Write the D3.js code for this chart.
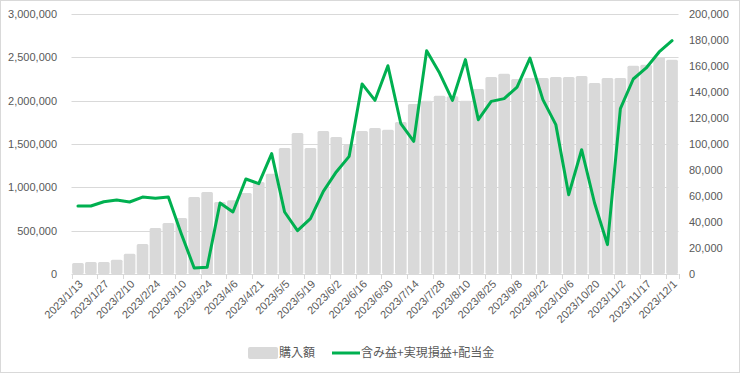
<!DOCTYPE html>
<html><head><meta charset="utf-8">
<script src="https://cdn.jsdelivr.net/npm/d3@7"></script>
<style>
html,body{margin:0;padding:0;background:#fff;}
svg{display:block;}
</style></head>
<body>
<svg id="chart" width="740" height="373"></svg>
<script>
const categories = ["2023/1/13","2023/1/20","2023/1/27","2023/2/3","2023/2/10","2023/2/17","2023/2/24","2023/3/3","2023/3/10","2023/3/17","2023/3/24","2023/3/31","2023/4/6","2023/4/14","2023/4/21","2023/4/28","2023/5/5","2023/5/12","2023/5/19","2023/5/26","2023/6/2","2023/6/9","2023/6/16","2023/6/23","2023/6/30","2023/7/7","2023/7/14","2023/7/21","2023/7/28","2023/8/4","2023/8/10","2023/8/18","2023/8/25","2023/9/1","2023/9/8","2023/9/15","2023/9/22","2023/9/29","2023/10/6","2023/10/13","2023/10/20","2023/10/27","2023/11/2","2023/11/10","2023/11/17","2023/11/24","2023/12/1"];
const purchase = [127000,138000,138000,165000,235000,346000,531000,588000,646000,888000,946000,831000,850000,935000,1061000,1158000,1454000,1627000,1454000,1650000,1581000,1492000,1650000,1685000,1665000,1754000,1961000,2000000,2058000,2050000,2000000,2135000,2273000,2311000,2250000,2261000,2261000,2273000,2273000,2285000,2204000,2261000,2261000,2404000,2415000,2504000,2473000];
const profit = [52300,52300,55600,56900,55400,59200,58200,59200,31000,4600,5100,54600,47700,73100,69500,92600,47700,33300,42600,63600,78500,90500,146200,133600,160200,115600,102000,171800,154600,133600,164900,118700,132800,134900,143800,166100,134100,114900,61000,95600,54600,22600,127200,150000,158500,170800,179500];
const leftTicks = [0,500000,1000000,1500000,2000000,2500000,3000000];
const rightTicks = [0,20000,40000,60000,80000,100000,120000,140000,160000,180000,200000];
const seriesNames = ["購入額","含み益+実現損益+配当金"];

(function(){
const svg = d3.select("#chart");
const W = 740, H = 373;
const pL = 71.5, pR = 678.5, pT = 14, pB = 274;
const textColor = "#595959";
const font = "'Liberation Sans', Arial, sans-serif";

svg.append("rect").attr("x",0.5).attr("y",0.5).attr("width",W-1).attr("height",H-1)
  .attr("fill","#fff").attr("stroke","#d9d9d9");

const x = d3.scaleBand().domain(categories).range([pL,pR]).paddingInner(0.1).paddingOuter(0.05);
const yL = d3.scaleLinear().domain([0,3000000]).range([pB,pT]);
const yR = d3.scaleLinear().domain([0,200000]).range([pB,pT]);
const fmt = d3.format(",");

svg.append("g").selectAll("line").data(leftTicks.slice(1)).join("line")
  .attr("x1",pL).attr("x2",pR)
  .attr("y1",d=>Math.round(yL(d))+0.5).attr("y2",d=>Math.round(yL(d))+0.5)
  .attr("stroke","#d9d9d9").attr("stroke-width",1);

svg.append("g").selectAll("text").data(leftTicks).join("text")
  .attr("x",57).attr("y",d=>yL(d)).attr("dy","0.35em")
  .attr("text-anchor","end").attr("font-family",font).attr("font-size",11)
  .attr("fill",textColor).text(d=>fmt(d));

svg.append("g").selectAll("text").data(rightTicks).join("text")
  .attr("x",689).attr("y",d=>yR(d)).attr("dy","0.35em")
  .attr("text-anchor","start").attr("font-family",font).attr("font-size",11)
  .attr("fill",textColor).text(d=>fmt(d));

svg.append("g").selectAll("rect").data(categories).join("rect")
  .attr("x",d=>x(d)).attr("width",x.bandwidth())
  .attr("y",(d,i)=>yL(purchase[i])).attr("height",(d,i)=>pB-yL(purchase[i]))
  .attr("rx",1.5).attr("fill","#d9d9d9");

svg.append("line").attr("x1",pL).attr("x2",pR).attr("y1",pB+0.5).attr("y2",pB+0.5)
  .attr("stroke","#d9d9d9");
const step = x.step();
const bounds = categories.filter((d,i)=>i%2===0).map(d=>x(d)-step*x.paddingInner()/2);
bounds.push(pR);
svg.append("g").selectAll("line").data(bounds).join("line")
  .attr("x1",d=>Math.round(d)+0.5).attr("x2",d=>Math.round(d)+0.5)
  .attr("y1",pB).attr("y2",pB+5).attr("stroke","#d9d9d9");

svg.append("g").selectAll("text").data(categories.filter((d,i)=>i%2===0)).join("text")
  .attr("transform",d=>`translate(${x(d)+x.bandwidth()/2+3},${pB+8}) rotate(-45)`)
  .attr("text-anchor","end").attr("dy","0.35em")
  .attr("font-family",font).attr("font-size",11).attr("fill",textColor).text(d=>d);

const line = d3.line().x((d,i)=>x(categories[i])+x.bandwidth()/2).y(d=>yR(d));
svg.append("path").datum(profit).attr("d",line)
  .attr("fill","none").attr("stroke","#00b050").attr("stroke-width",3)
  .attr("stroke-linejoin","round").attr("stroke-linecap","round");

const lg = svg.append("g");
const cjk = "'Noto Sans CJK JP', 'Noto Sans', sans-serif";
lg.append("rect").attr("x",248).attr("y",347).attr("width",30).attr("height",12).attr("rx",2).attr("fill","#d9d9d9");
lg.append("text").attr("x",279).attr("y",353).attr("dy","0.35em").attr("font-family",cjk)
  .attr("font-size",12).attr("fill",textColor).text(seriesNames[0]);
lg.append("line").attr("x1",332).attr("x2",360).attr("y1",353).attr("y2",353)
  .attr("stroke","#00b050").attr("stroke-width",3);
lg.append("text").attr("x",361).attr("y",353).attr("dy","0.35em").attr("font-family",cjk)
  .attr("font-size",12).attr("fill",textColor).text(seriesNames[1]);
})();
</script>
</body></html>
